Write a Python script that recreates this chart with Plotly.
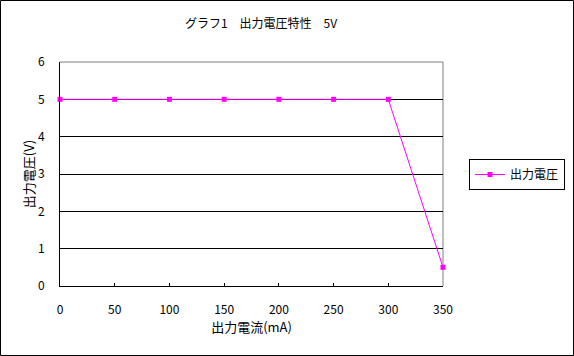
import plotly.graph_objects as go

current_mA = [0, 50, 100, 150, 200, 250, 300, 350]
voltage_V = [5, 5, 5, 5, 5, 5, 5, 0.5]
x_ticks = [0, 50, 100, 150, 200, 250, 300, 350]
y_ticks = [0, 1, 2, 3, 4, 5, 6]

title_text = "グラフ1　出力電圧特性　5V"
x_title = "出力電流(mA)"
y_title = "出力電圧(V)"
series_name = "出力電圧"

W, H = 574, 356
L, R, T, B = 60, 131, 62, 70
pw, ph = W - L - R, H - T - B

font_fam = "Noto Sans CJK JP, Arial, sans-serif"
mag = "#FF00FF"

fig = go.Figure()
fig.add_trace(go.Scatter(
    x=current_mA, y=voltage_V, mode="lines+markers", name=series_name,
    line=dict(color=mag, width=1),
    marker=dict(symbol="square", size=5, color=mag, line=dict(width=0)),
    cliponaxis=False,
))

fig.update_layout(
    width=W, height=H,
    margin=dict(l=L, r=R, t=T, b=B, autoexpand=False),
    paper_bgcolor="white", plot_bgcolor="white",
    font=dict(family=font_fam, size=12, color="black"),
    title=dict(text=title_text, x=261 / W, xanchor="center", xref="container",
               y=1 - 24 / H, yanchor="middle", yref="container", font=dict(size=12)),
    showlegend=True,
    legend=dict(x=(469 - L) / pw, xanchor="left", y=(H - B - 174.5) / ph, yanchor="middle",
                bordercolor="black", borderwidth=1, bgcolor="white",
                font=dict(size=12), itemwidth=30, tracegroupgap=0),
    xaxis=dict(range=[0, 350], tickvals=x_ticks, ticks="inside", ticklen=3,
               tickcolor="black", showline=True, linecolor="black", linewidth=1,
               showgrid=False, zeroline=False, ticklabelstandoff=13, automargin=False,
               title=dict(text=x_title, standoff=4, font=dict(size=13))),
    yaxis=dict(range=[0, 6], tickvals=y_ticks, ticks="", showline=True,
               linecolor="black", linewidth=1, showgrid=True, gridcolor="black",
               gridwidth=1, zeroline=False, ticklabelstandoff=12, automargin=False,
               title=dict(text=y_title, standoff=0, font=dict(size=13))),
    shapes=[
        dict(type="line", xref="paper", yref="paper", x0=0, x1=1, y0=1, y1=1,
             line=dict(color="#808080", width=1), layer="above"),
        dict(type="line", xref="paper", yref="paper", x0=1, x1=1, y0=0, y1=1,
             line=dict(color="#808080", width=1), layer="below"),
        dict(type="rect", xref="paper", yref="paper",
             x0=-(L - 0.5) / pw, x1=(W - L - 0.5) / pw,
             y0=-(B - 0.5) / ph, y1=(H - B - 0.5) / ph,
             line=dict(color="black", width=1), layer="above"),
    ],
)

fig.write_html("out.html", config={"displayModeBar": False},
               post_script="document.body.style.margin='0';document.body.style.padding='0';")
